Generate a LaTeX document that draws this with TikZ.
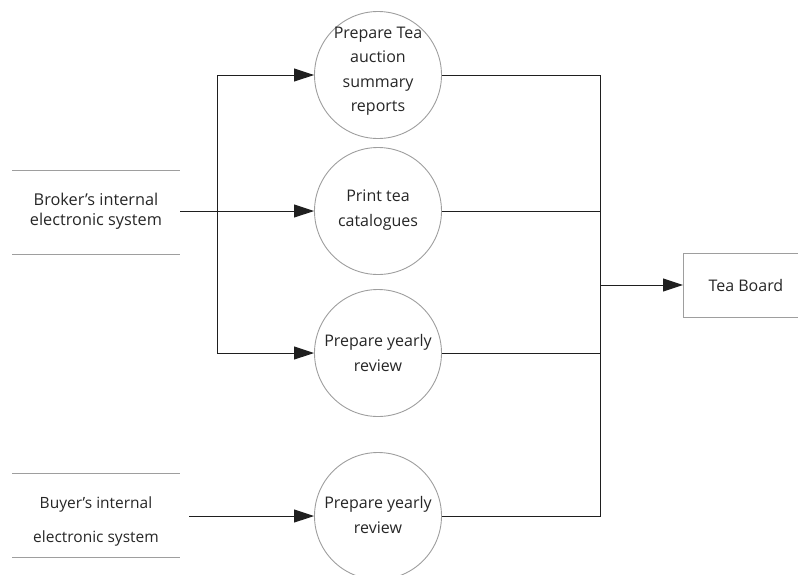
\documentclass[tikz,border=0pt]{standalone}
\usepackage{fontspec}
\setmainfont{Open Sans}
\usetikzlibrary{arrows.meta,calc}
\begin{document}
\begin{tikzpicture}[x=1pt,y=-1pt,
  proc/.style={circle,draw=black!38,line width=0.9pt,minimum size=127pt,inner sep=0pt},
  proctext/.style={align=center,inner sep=0pt,text=black!85,font=\fontsize{16}{24.5}\selectfont},
  storetext/.style={align=center,inner sep=0pt,minimum width=168pt,text=black!85},
  storeline/.style={draw=black!38,line width=0.9pt},
  entity/.style={draw=black!38,line width=0.9pt,minimum width=125pt,minimum height=64pt,
    inner sep=0pt,anchor=west,text=black!85,font=\fontsize{16}{18}\selectfont},
  link/.style={draw=black!88,line width=0.95pt},
  flow/.style={link,-{Triangle[length=20pt,width=13pt]}}]
\useasboundingbox (0,0) rectangle (798,574);
\clip (0,0) rectangle (798,574);

% processes
\node[proc] (p1) at (378,75) {};
\node[proctext] (p1t) at (378,71) {Prepare Tea\\auction\\summary\\reports};
\node[proc] (p2) at (378,211) {};
\node[proctext] (p2t) at (378,210) {Print tea\\catalogues};
\node[proc] (p3) at (378,353) {};
\node[proctext] (p3t) at (378,353) {Prepare yearly\\review};
\node[proc] (p4) at (378,516) {};
\node[proctext] (p4t) at (378,515) {Prepare yearly\\review};

% data stores
\draw[storeline] (12,170) -- (180,170);
\draw[storeline] (12,254) -- (180,254);
\node[storetext,font=\fontsize{16.3}{20}\selectfont] (s1) at (96,211) {Broker’s internal\\electronic system};
\draw[storeline] (12,473) -- (180,473);
\draw[storeline] (12,557) -- (180,557);
\node[storetext,font=\fontsize{15.5}{34}\selectfont] (s2) at (96,521) {Buyer’s internal\\electronic system};

% external entity
\node[entity] (tb) at (683,285) {Tea Board};

% junctions
\coordinate (j1) at (217,211);
\coordinate (j2) at (600,285);

% flows into the processes
\draw[flow] (s1.east |- p2.west) -- (p2.west);
\draw[flow] (j1) |- (p1.west);
\draw[flow] (j1) |- (p3.west);
\draw[flow] ($(s2.east |- p4.west)+(9,0)$) -- (p4.west);

% flows out to the entity
\draw[link] (p1.east) -| (j2);
\draw[link] (p2.east) -| (j2);
\draw[link] (p3.east) -| (j2);
\draw[link] (p4.east) -| (j2);
\draw[flow] (j2) -- (tb.west);
\end{tikzpicture}
\end{document}
